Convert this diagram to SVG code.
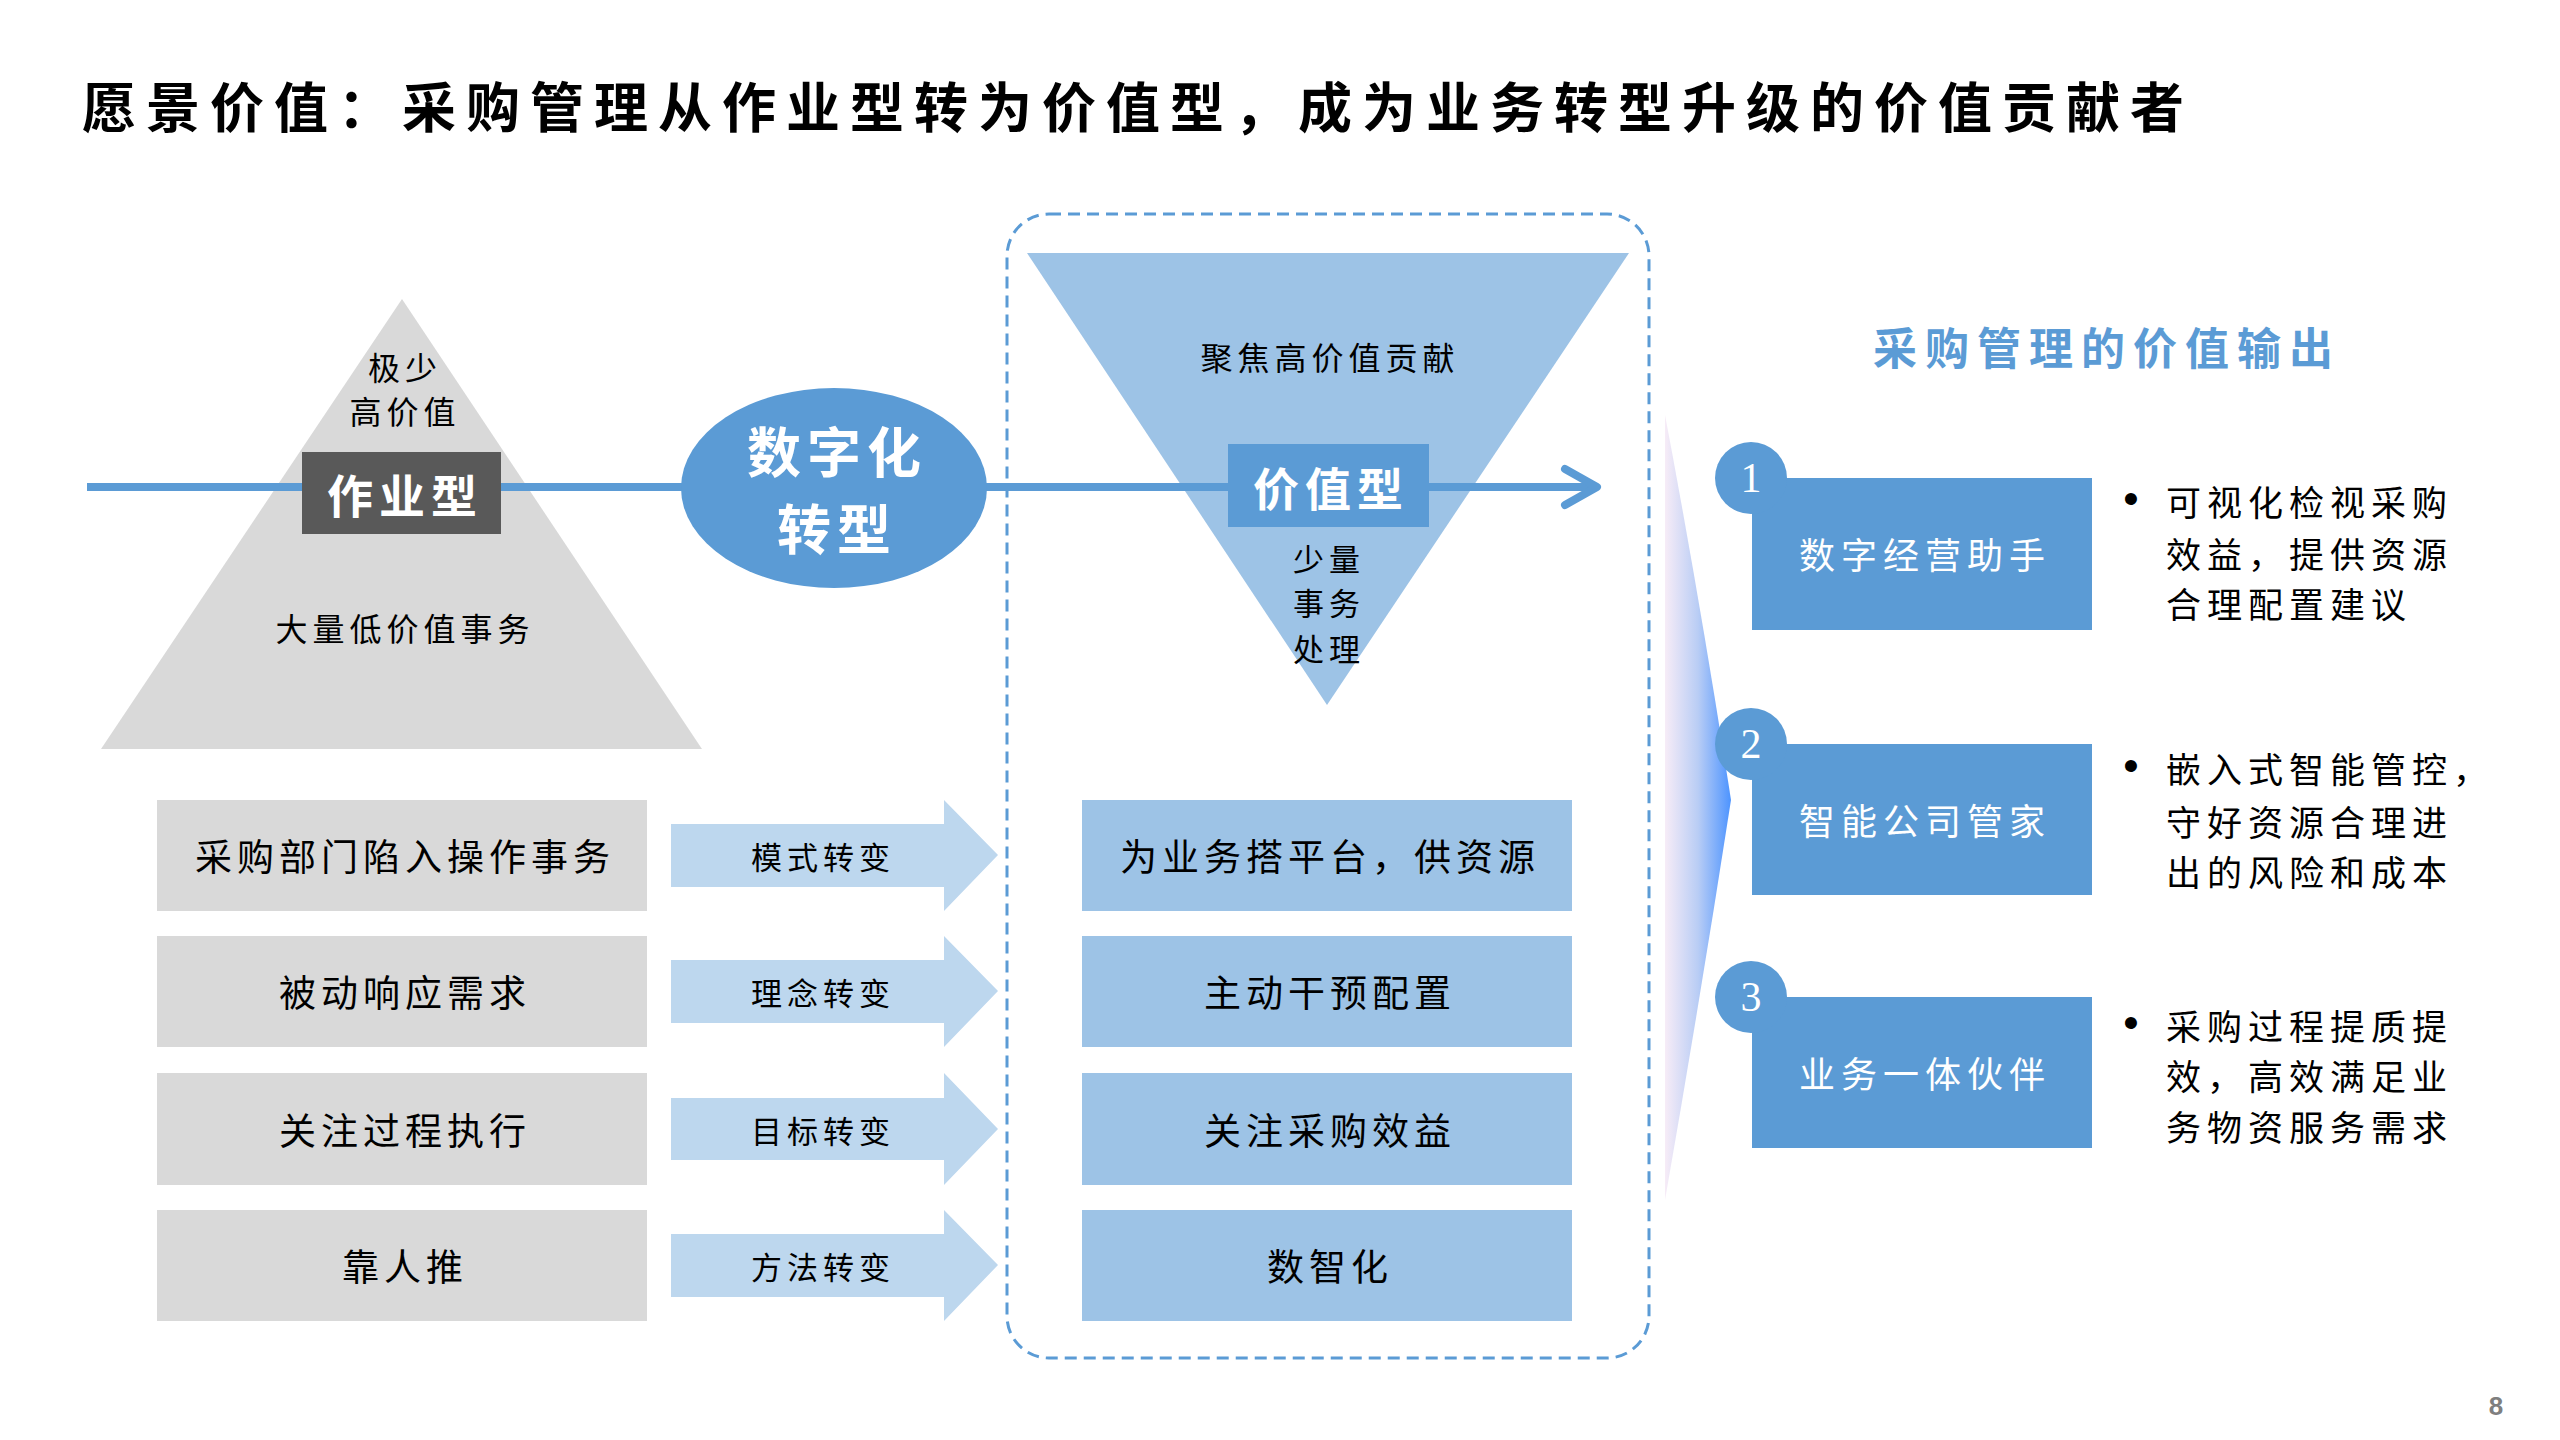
<svg xmlns="http://www.w3.org/2000/svg" width="2560" height="1440" viewBox="0 0 2560 1440">
<defs>
<style>
text{font-family:"Noto Sans CJK SC","Noto Sans",sans-serif;dominant-baseline:central;text-anchor:middle;fill:#000}
.title{font-size:54px;font-weight:bold;letter-spacing:10px;text-anchor:start}
.b{font-size:37px;letter-spacing:5px}
.s{font-size:31px;letter-spacing:5px}
.m{font-size:32px;letter-spacing:5px}
.w{fill:#fff}
.wb{fill:#fff;font-weight:bold}
.bul{font-size:35px;letter-spacing:6px;text-anchor:start}
.dot{font-family:"Liberation Sans",sans-serif;font-size:44px;text-anchor:middle}
.num{font-family:"Liberation Serif",serif;font-size:42px;fill:#fff}
.gray{fill:#d9d9d9}
.lb{fill:#9dc3e6}
.mb{fill:#5b9bd5}
.ar{fill:#bdd7ee}
</style>
<linearGradient id="wg" x1="0" y1="0" x2="1" y2="0">
<stop offset="0" stop-color="#f7ecf7"/>
<stop offset="0.5" stop-color="#b9cdf5"/>
<stop offset="1" stop-color="#4d94ff"/>
</linearGradient>
</defs>
<rect width="2560" height="1440" fill="#fff"/>

<text class="title" x="82" y="104">愿景价值：采购管理从作业型转为价值型，成为业务转型升级的价值贡献者</text>

<g id="pyramid">
<polygon points="402,299 101,749 702,749" class="gray"/>
<text class="m" x="405" y="366">极少</text>
<text class="m" x="405" y="410">高价值</text>
<text class="m" x="405" y="627">大量低价值事务</text>
</g>

<g id="inv-triangle">
<polygon points="1027,253 1629,253 1327,705" class="lb"/>
<text class="m" x="1330" y="356">聚焦高价值贡献</text>
</g>

<g id="dashed-frame">
<rect x="1007" y="214" width="642" height="1144" rx="42" fill="none" stroke="#5b9bd5" stroke-width="3" stroke-dasharray="12 7"/>
</g>

<g id="connectors">
<line x1="87" y1="487" x2="1594" y2="487" stroke="#5b9bd5" stroke-width="8"/>
<polyline points="1565,469 1597,487 1565,505" fill="none" stroke="#5b9bd5" stroke-width="8" stroke-linecap="round" stroke-linejoin="round"/>
<polygon class="ar" points="671,824 944,824 944,800 998,855 944,911 944,887 671,887"/>
<polygon class="ar" points="671,960 944,960 944,936 998,991 944,1047 944,1023 671,1023"/>
<polygon class="ar" points="671,1098 944,1098 944,1073 998,1129 944,1185 944,1160 671,1160"/>
<polygon class="ar" points="671,1234 944,1234 944,1210 998,1265 944,1321 944,1297 671,1297"/>
<path d="M1665,415 Q1700,600 1731,800 Q1700,1000 1665,1200 Z" fill="url(#wg)"/>
</g>

<g id="node-zuoyexing">
<rect x="302" y="452" width="199" height="82" fill="#595959"/>
<text class="wb" x="405" y="493" style="font-size:46px;letter-spacing:6px">作业型</text>
</g>

<g id="node-digital">
<ellipse cx="834" cy="488" rx="153" ry="100" class="mb"/>
<text class="wb" x="837" y="449" style="font-size:54px;letter-spacing:6px">数字化</text>
<text class="wb" x="837" y="526" style="font-size:54px;letter-spacing:6px">转型</text>
</g>

<g id="node-jiazhixing">
<rect x="1228" y="444" width="201" height="83" class="mb"/>
<text class="wb" x="1331" y="486" style="font-size:46px;letter-spacing:6px">价值型</text>
<text class="s" x="1329" y="557">少量</text>
<text class="s" x="1329" y="601">事务</text>
<text class="s" x="1329" y="647">处理</text>
</g>

<g id="row1">
<rect x="157" y="800" width="490" height="111" class="gray"/>
<text class="b" x="405" y="855">采购部门陷入操作事务</text>
<text class="s" x="823" y="855">模式转变</text>
<rect x="1082" y="800" width="490" height="111" class="lb"/>
<text class="b" x="1330" y="855">为业务搭平台，供资源</text>
</g>
<g id="row2">
<rect x="157" y="936" width="490" height="111" class="gray"/>
<text class="b" x="405" y="991">被动响应需求</text>
<text class="s" x="823" y="991">理念转变</text>
<rect x="1082" y="936" width="490" height="111" class="lb"/>
<text class="b" x="1330" y="991">主动干预配置</text>
</g>
<g id="row3">
<rect x="157" y="1073" width="490" height="112" class="gray"/>
<text class="b" x="405" y="1129">关注过程执行</text>
<text class="s" x="823" y="1129">目标转变</text>
<rect x="1082" y="1073" width="490" height="112" class="lb"/>
<text class="b" x="1330" y="1129">关注采购效益</text>
</g>
<g id="row4">
<rect x="157" y="1210" width="490" height="111" class="gray"/>
<text class="b" x="405" y="1265">靠人推</text>
<text class="s" x="823" y="1265">方法转变</text>
<rect x="1082" y="1210" width="490" height="111" class="lb"/>
<text class="b" x="1330" y="1265">数智化</text>
</g>

<g id="output-title">
<text x="2107" y="346" style="font-size:44px;font-weight:bold;letter-spacing:8px;fill:#5b9bd5">采购管理的价值输出</text>
</g>

<g id="out1">
<rect x="1752" y="478" width="340" height="152" class="mb"/>
<circle cx="1751" cy="478" r="36" class="mb"/>
<text class="num" x="1751" y="478">1</text>
<text class="w" x="1925" y="553" style="font-size:36px;letter-spacing:6px">数字经营助手</text>
<text class="dot" x="2131" y="498">•</text>
<text class="bul" x="2166" y="500">可视化检视采购</text>
<text class="bul" x="2166" y="552">效益，提供资源</text>
<text class="bul" x="2166" y="602">合理配置建议</text>
</g>
<g id="out2">
<rect x="1752" y="744" width="340" height="151" class="mb"/>
<circle cx="1751" cy="744" r="36" class="mb"/>
<text class="num" x="1751" y="744">2</text>
<text class="w" x="1925" y="819" style="font-size:36px;letter-spacing:6px">智能公司管家</text>
<text class="dot" x="2131" y="765">•</text>
<text class="bul" x="2166" y="767">嵌入式智能管控，</text>
<text class="bul" x="2166" y="820">守好资源合理进</text>
<text class="bul" x="2166" y="870">出的风险和成本</text>
</g>
<g id="out3">
<rect x="1752" y="997" width="340" height="151" class="mb"/>
<circle cx="1751" cy="997" r="36" class="mb"/>
<text class="num" x="1751" y="997">3</text>
<text class="w" x="1925" y="1072" style="font-size:36px;letter-spacing:6px">业务一体伙伴</text>
<text class="dot" x="2131" y="1022">•</text>
<text class="bul" x="2166" y="1024">采购过程提质提</text>
<text class="bul" x="2166" y="1074">效，高效满足业</text>
<text class="bul" x="2166" y="1125">务物资服务需求</text>
</g>

<text x="2496" y="1406" style="font-family:'Liberation Sans',sans-serif;font-size:26px;font-weight:bold;fill:#7f7f7f">8</text>
</svg>
